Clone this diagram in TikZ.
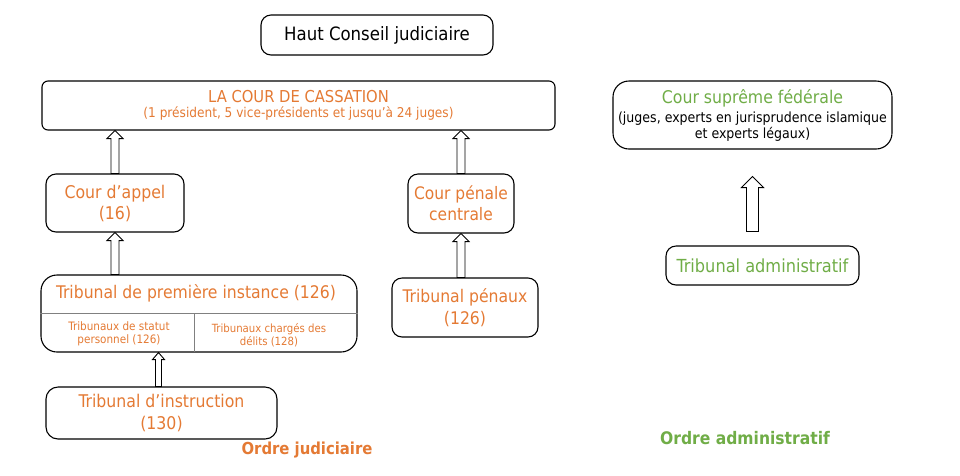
\documentclass[tikz,border=0pt]{standalone}
\usepackage{fontspec}
\setmainfont{DejaVu Sans Condensed}
\usetikzlibrary{calc}
\definecolor{jOrange}{RGB}{228,122,52}
\definecolor{aGreen}{RGB}{112,173,71}
\tikzset{
    court/.style={draw, line width=1.1pt, align=center, inner sep=0pt, rounded corners=10pt},
    blockarrow/.style={draw, line width=0.9pt, fill=white},
    divider/.style={line width=0.8pt, gray}
}
\newcommand{\upblock}[5]{\draw[blockarrow] let \p1=(#1), \p2=(#2) in
    (\x1-#3,\y1) -- (\x1-#3,\y2-#5) -- (\x1-#4,\y2-#5) -- (\x1,\y2) -- (\x1+#4,\y2-#5) -- (\x1+#3,\y2-#5) -- (\x1+#3,\y1) -- cycle;}

\begin{document}
\begin{tikzpicture}[x=1pt,y=-1pt]
\useasboundingbox (0,0) rectangle (960,475);
\node[court,minimum width=232pt,minimum height=40pt,font=\fontsize{18.4}{20}\selectfont] (conseil) at (377,35) {Haut Conseil judiciaire};
\node[court,rounded corners=6pt,minimum width=513pt,minimum height=49pt,text=jOrange,font=\fontsize{13.5}{15.5}\selectfont] (cassation) at (298.5,105.5)
    {{\fontsize{16.4}{20}\selectfont LA COUR DE CASSATION}\\(1 président, 5 vice-présidents et jusqu’à 24 juges)};
\node[court,minimum width=138pt,minimum height=58pt,text=jOrange,font=\fontsize{17.5}{21}\selectfont] (appel) at (115,203) {Cour d’appel\\(16)};
\node[court,minimum width=106pt,minimum height=59pt,text=jOrange,font=\fontsize{17.2}{21}\selectfont] (penale) at (461,203.5) {Cour pénale\\centrale};
\node[court,rounded corners=16pt,minimum width=316pt,minimum height=77pt] (tpi) at (199,313.5) {};
\draw[divider] (tpi.west) -- (tpi.east);
\draw[divider] (194,314) -- (194,352);
\node[text=jOrange,font=\fontsize{17.4}{20}\selectfont] (tpititle) at (196,293) {Tribunal de première instance (126)};
\node[text=jOrange,align=center,font=\fontsize{11.6}{13.5}\selectfont] (statut) at (119,334) {Tribunaux de statut\\personnel (126)};
\node[text=jOrange,align=center,font=\fontsize{11.3}{13.5}\selectfont] (delits) at (269,335) {Tribunaux chargés des\\délits (128)};
\node[court,minimum width=146pt,minimum height=59pt,text=jOrange,font=\fontsize{17.4}{22}\selectfont] (penaux) at (465,307.5) {Tribunal pénaux\\(126)};
\node[court,rounded corners=12pt,minimum width=231pt,minimum height=52pt,text=jOrange,font=\fontsize{17.5}{22}\selectfont] (instruction) at (161.5,413) {Tribunal d’instruction\\(130)};
\node[text=jOrange,font=\bfseries\fontsize{16.5}{20}\selectfont] (ordrej) at (307,450) {Ordre judiciaire};
\node[court,rounded corners=16pt,minimum width=279pt,minimum height=68pt,font=\fontsize{14}{15.5}\selectfont] (supreme) at (752.5,115)
    {{\color{aGreen}\fontsize{17.5}{20}\selectfont Cour suprême fédérale}\\[4pt](juges, experts en jurisprudence islamique\\et experts légaux)};
\node[court,minimum width=193pt,minimum height=39pt,text=aGreen,font=\fontsize{18}{20}\selectfont] (admin) at (762.5,265.5) {Tribunal administratif};
\node[text=aGreen,font=\bfseries\fontsize{17.3}{20}\selectfont] (ordrea) at (745,438) {Ordre administratif};
\coordinate (adminfoot) at ([yshift=14pt]supreme.south |- admin.north);
\coordinate (supremetip) at ([yshift=-27pt]supreme.south);
\upblock{appel.north}{appel.north |- cassation.south}{4pt}{8pt}{8pt}
\upblock{penale.north}{penale.north |- cassation.south}{4pt}{8pt}{8pt}
\upblock{appel.south |- tpi.north}{appel.south}{4pt}{8pt}{8pt}
\upblock{penale.south |- penaux.north}{penale.south}{4pt}{8pt}{8pt}
\upblock{[xshift=-3pt]instruction.north}{[xshift=-3pt]instruction.north |- tpi.south}{3pt}{6pt}{7pt}
\upblock{adminfoot}{supremetip}{6pt}{11pt}{11pt}
\end{tikzpicture}
\end{document}
